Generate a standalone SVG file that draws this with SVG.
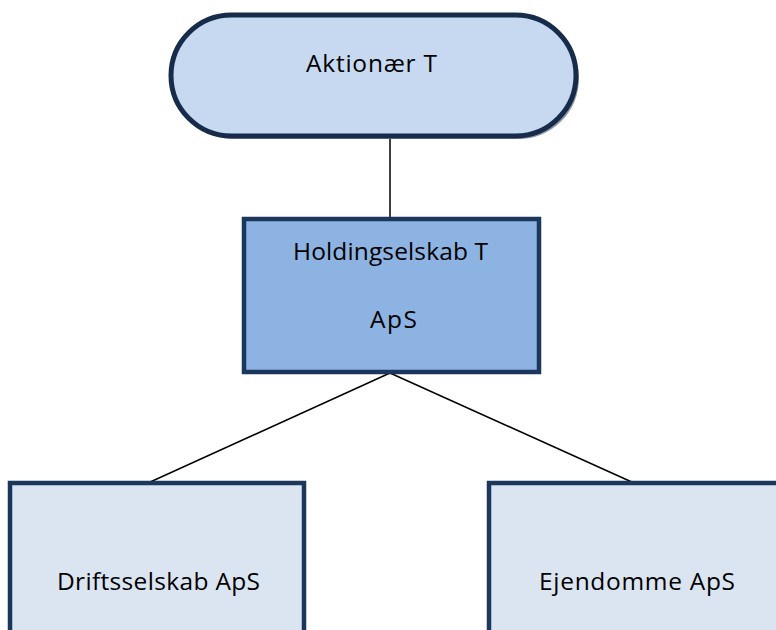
<svg xmlns="http://www.w3.org/2000/svg" width="776" height="630" viewBox="0 0 776 630">
  <style>
    .lbl { font-family: "Open Sans", "Liberation Sans", sans-serif; font-size: 24.5px; fill: #000; }
    .box { stroke: #1b375c; stroke-width: 4.5; }
    .wire { stroke: #000; stroke-width: 1.5; fill: none; }
  </style>
  <rect width="776" height="630" fill="#fff"/>

  <g id="connectors">
    <line class="wire" x1="390" y1="138" x2="390" y2="219"/>
    <line class="wire" x1="390" y1="373" x2="148" y2="483"/>
    <line class="wire" x1="390" y1="373" x2="634" y2="483"/>
  </g>

  <g id="aktionaer">
    <rect x="174" y="18" width="405" height="121" rx="60.5" fill="#8e99ab"/>
    <rect x="171" y="15" width="405" height="121" rx="60.5" fill="#c6d9f1" stroke="#172c4a" stroke-width="5"/>
    <text class="lbl" x="306" y="72" textLength="131" lengthAdjust="spacing">Aktionær T</text>
  </g>

  <g id="holding">
    <rect class="box" x="244" y="219" width="295" height="153" fill="#8db3e2"/>
    <text class="lbl" x="293" y="260" textLength="195" lengthAdjust="spacing">Holdingselskab T</text>
    <text class="lbl" x="370" y="328" textLength="47" lengthAdjust="spacing">ApS</text>
  </g>

  <g id="drift">
    <rect class="box" x="10" y="483" width="294" height="160" fill="#dbe5f1"/>
    <text class="lbl" x="57" y="590" textLength="203" lengthAdjust="spacing">Driftsselskab ApS</text>
  </g>

  <g id="ejendomme">
    <rect class="box" x="489" y="483" width="300" height="160" fill="#dbe5f1"/>
    <text class="lbl" x="539" y="590" textLength="196" lengthAdjust="spacing">Ejendomme ApS</text>
  </g>
</svg>
